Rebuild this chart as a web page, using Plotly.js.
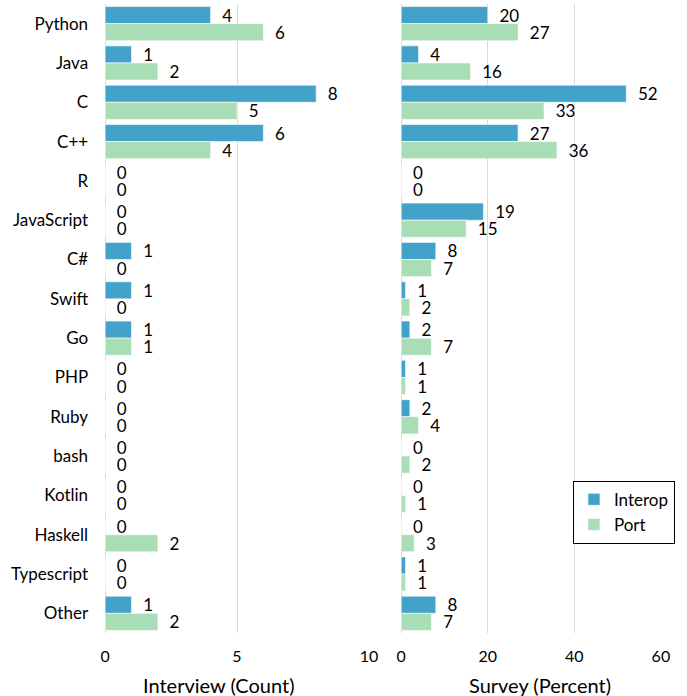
<!DOCTYPE html>
<html><head><meta charset="utf-8">
<script src="https://cdn.plot.ly/plotly-3.0.1.min.js"></script>
<style>html,body{margin:0;padding:0;background:#fff}</style>
</head><body>
<div id="chart" style="width:687px;height:696px"></div>
<script>
const languages = ["Python","Java","C","C++","R","JavaScript","C#","Swift","Go","PHP","Ruby","bash","Kotlin","Haskell","Typescript","Other"];
const interviewInterop = [4,1,8,6,0,0,1,1,1,0,0,0,0,0,0,1];
const interviewPort    = [6,2,5,4,0,0,0,0,1,0,0,0,0,2,0,2];
const surveyInterop    = [20,4,52,27,0,19,8,1,2,1,2,0,0,0,1,8];
const surveyPort       = [27,16,33,36,0,15,7,2,7,1,4,2,1,3,1,7];
const interopColor = "#43a2ca";
const portColor = "#a8ddb5";
const fontFam = "Lato, 'Open Sans', sans-serif";

function tr(vals, name, color, xa, ya, show){
  return {type:"bar", orientation:"h", x:vals, y:languages, name:name,
    xaxis:xa, yaxis:ya, showlegend:show,
    marker:{color:color, line:{color:"rgba(255,255,255,0.6)", width:1}},
    text:vals.map(v => "\u00a0\u00a0" + v), textposition:"outside", cliponaxis:false,
    constraintext:"none",
    textfont:{size:17, color:"#000", family:fontFam}, hoverinfo:"x+y"};
}
const data = [
  tr(interviewInterop,"Interop",interopColor,"x","y",true),
  tr(interviewPort,"Port",portColor,"x","y",true),
  tr(surveyInterop,"Interop",interopColor,"x2","y2",false),
  tr(surveyPort,"Port",portColor,"x2","y2",false)
];
const gridC = "#d9d9d9";
const layout = {
  width:687, height:696,
  margin:{l:0,r:0,t:4,b:63},
  paper_bgcolor:"#fff", plot_bgcolor:"#fff",
  font:{family:fontFam, size:17, color:"#000"},
  barmode:"group", bargap:0.13, bargroupgap:0,
  showlegend:true,
  legend:{x:0.834, y:0.242, xanchor:"left", yanchor:"top",
    bordercolor:"#000", borderwidth:1, bgcolor:"#fff",
    font:{size:17, family:fontFam}, itemwidth:30, tracegroupgap:0, traceorder:"normal"},
  xaxis:{domain:[0.153,0.537], range:[0,10], tickvals:[0,5,10],
    showgrid:true, gridcolor:gridC, zeroline:true, zerolinecolor:gridC,
    ticks:"", ticklabelstandoff:12, tickfont:{size:16}, fixedrange:true},
  yaxis:{domain:[0,1], anchor:"x", autorange:"reversed", type:"category",
    ticks:"", ticklabelstandoff:16, tickfont:{size:17}, showgrid:false, showline:false},
  xaxis2:{domain:[0.584,0.962], range:[0,60], tickvals:[0,20,40,60], anchor:"y2",
    showgrid:true, gridcolor:gridC, zeroline:true, zerolinecolor:gridC,
    ticks:"", ticklabelstandoff:12, tickfont:{size:16}},
  yaxis2:{domain:[0,1], anchor:"x2", autorange:"reversed", type:"category",
    showticklabels:false, ticks:"", showgrid:false, showline:false},
  annotations:[
    {text:"Interview (Count)", xref:"paper", yref:"paper", x:219/687, y:-(685-633)/629,
     xanchor:"center", yanchor:"middle", showarrow:false, font:{size:20}},
    {text:"Survey (Percent)", xref:"paper", yref:"paper", x:540/687, y:-(685-633)/629,
     xanchor:"center", yanchor:"middle", showarrow:false, font:{size:20}}
  ]
};
Plotly.newPlot("chart", data, layout, {displayModeBar:false, staticPlot:true});
</script>
</body></html>
